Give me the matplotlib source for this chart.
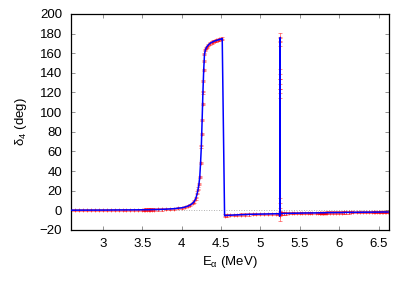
import matplotlib
matplotlib.use("Agg")
import matplotlib.pyplot as plt

# phase shift delta_4 vs alpha energy
energy = [
    2.60, 2.65, 2.70, 2.75, 2.80, 2.85, 2.90, 2.95, 3.00, 3.05,
    3.10, 3.15, 3.20, 3.25, 3.30, 3.35, 3.40, 3.45, 3.50, 3.52,
    3.54, 3.56, 3.58, 3.60, 3.62, 3.65, 3.70, 3.75, 3.80, 3.85,
    3.90, 3.95, 4.00, 4.04, 4.08, 4.11, 4.14, 4.16, 4.18, 4.20,
    4.21, 4.22, 4.23, 4.24, 4.25, 4.255, 4.26, 4.265, 4.27, 4.275,
    4.28, 4.285, 4.29, 4.30, 4.31, 4.32, 4.34, 4.36, 4.38, 4.40,
    4.42, 4.44, 4.46, 4.48, 4.50, 4.515,
    4.545, 4.58, 4.62, 4.66, 4.70, 4.75, 4.80, 4.85, 4.90, 4.95,
    5.00, 5.05, 5.10, 5.15, 5.20, 5.23, 5.24, 5.245, 5.248, 5.249,
    5.2495, 5.250, 5.2505, 5.251, 5.2515,
    5.255, 5.27, 5.30, 5.33, 5.36, 5.40, 5.43, 5.46, 5.50, 5.53,
    5.56, 5.60, 5.63, 5.66, 5.70, 5.73, 5.75, 5.76, 5.77, 5.78,
    5.79, 5.80, 5.81, 5.82, 5.83, 5.85, 5.88, 5.92, 5.96, 6.00,
    6.03, 6.06, 6.09, 6.12, 6.15, 6.18, 6.22, 6.26, 6.30, 6.34,
    6.38, 6.42, 6.44, 6.46, 6.48, 6.50, 6.52, 6.54, 6.56, 6.58,
    6.60, 6.62,
]
delta4 = [
    0.1, 0.1, 0.1, 0.1, 0.1, 0.2, 0.2, 0.2, 0.2, 0.2,
    0.3, 0.3, 0.3, 0.3, 0.4, 0.4, 0.4, 0.5, 0.5, 0.5,
    0.6, 0.6, 0.6, 0.6, 0.7, 0.7, 0.8, 0.9, 1.1, 1.3,
    1.6, 2.0, 2.5, 3.2, 4.3, 5.5, 7.2, 9.0, 12.0, 18.0,
    22.0, 27.0, 34.0, 48.0, 65.0, 78.0, 92.0, 108.0, 120.0, 132.0,
    143.0, 152.0, 159.0, 163.0, 165.0, 166.5, 168.5, 170.0, 171.0, 171.8,
    172.5, 173.0, 173.5, 174.0, 174.5, 175.0,
    -5.5, -5.2, -5.0, -4.8, -4.7, -4.5, -4.4, -4.2, -4.1, -4.0,
    -3.9, -3.8, -3.7, -3.6, -3.5, -3.5, -3.8, -6.0, 7.0, 119.0,
    129.0, 139.0, 172.0, 176.0, -3.0,
    -3.3, -3.3, -3.2, -3.2, -3.1, -3.1, -3.0, -3.0, -2.9, -2.9,
    -2.8, -2.8, -2.7, -2.7, -2.7, -2.6, -2.6, -2.6, -2.6, -2.6,
    -2.5, -2.5, -2.5, -2.5, -2.5, -2.4, -2.4, -2.4, -2.3, -2.3,
    -2.3, -2.2, -2.2, -2.2, -2.1, -2.1, -2.1, -2.0, -2.0, -2.0,
    -2.0, -1.9, -1.9, -1.9, -1.9, -1.9, -1.8, -1.8, -1.8, -1.8,
    -1.8, -1.8,
]
# error bars, larger on the narrow resonance
err = [1.2] * len(delta4)
for i, e in enumerate(energy):
    if 5.244 <= e <= 5.2512:
        err[i] = 5.0

plt.rcParams['font.family'] = ['Liberation Sans', 'DejaVu Sans']
plt.rcParams['font.size'] = 9.5
plt.rcParams['mathtext.fontset'] = 'custom'
plt.rcParams['mathtext.rm'] = 'Liberation Sans'
plt.rcParams['mathtext.it'] = 'Liberation Sans'
plt.rcParams['mathtext.default'] = 'regular'

fig = plt.figure(figsize=(4.15, 2.91), dpi=100)
ax = fig.add_axes([0.170, 0.210, 0.767, 0.742])

ax.axhline(0, color='#999999', lw=0.6, ls=(0, (1, 2)), zorder=1)
ax.errorbar(energy, delta4, yerr=err, fmt='+', color='#ff0000', ms=3.0,
            mew=0.6, ecolor='#ff0000', elinewidth=0.6, capsize=1.5,
            capthick=0.6, alpha=0.55, zorder=2)
ax.plot(energy, delta4, color='#0000ff', lw=1.1, zorder=3)

ax.set_xlim(2.59, 6.63)
ax.set_ylim(-20, 200)
ax.set_xticks([3, 3.5, 4, 4.5, 5, 5.5, 6, 6.5])
ax.set_xticklabels(['3', '3.5', '4', '4.5', '5', '5.5', '6', '6.5'])
ax.set_yticks(range(-20, 201, 20))
ax.tick_params(direction='in', top=True, right=True, length=3,
               color='#808080', width=0.6, pad=6)
for s in ax.spines.values():
    s.set_linewidth(0.9)

ax.set_xlabel('E$_{α}$ (MeV)', labelpad=3)
ax.set_ylabel('δ$_{4}$ (deg)', labelpad=8)

fig.savefig("out.png", dpi=100)
